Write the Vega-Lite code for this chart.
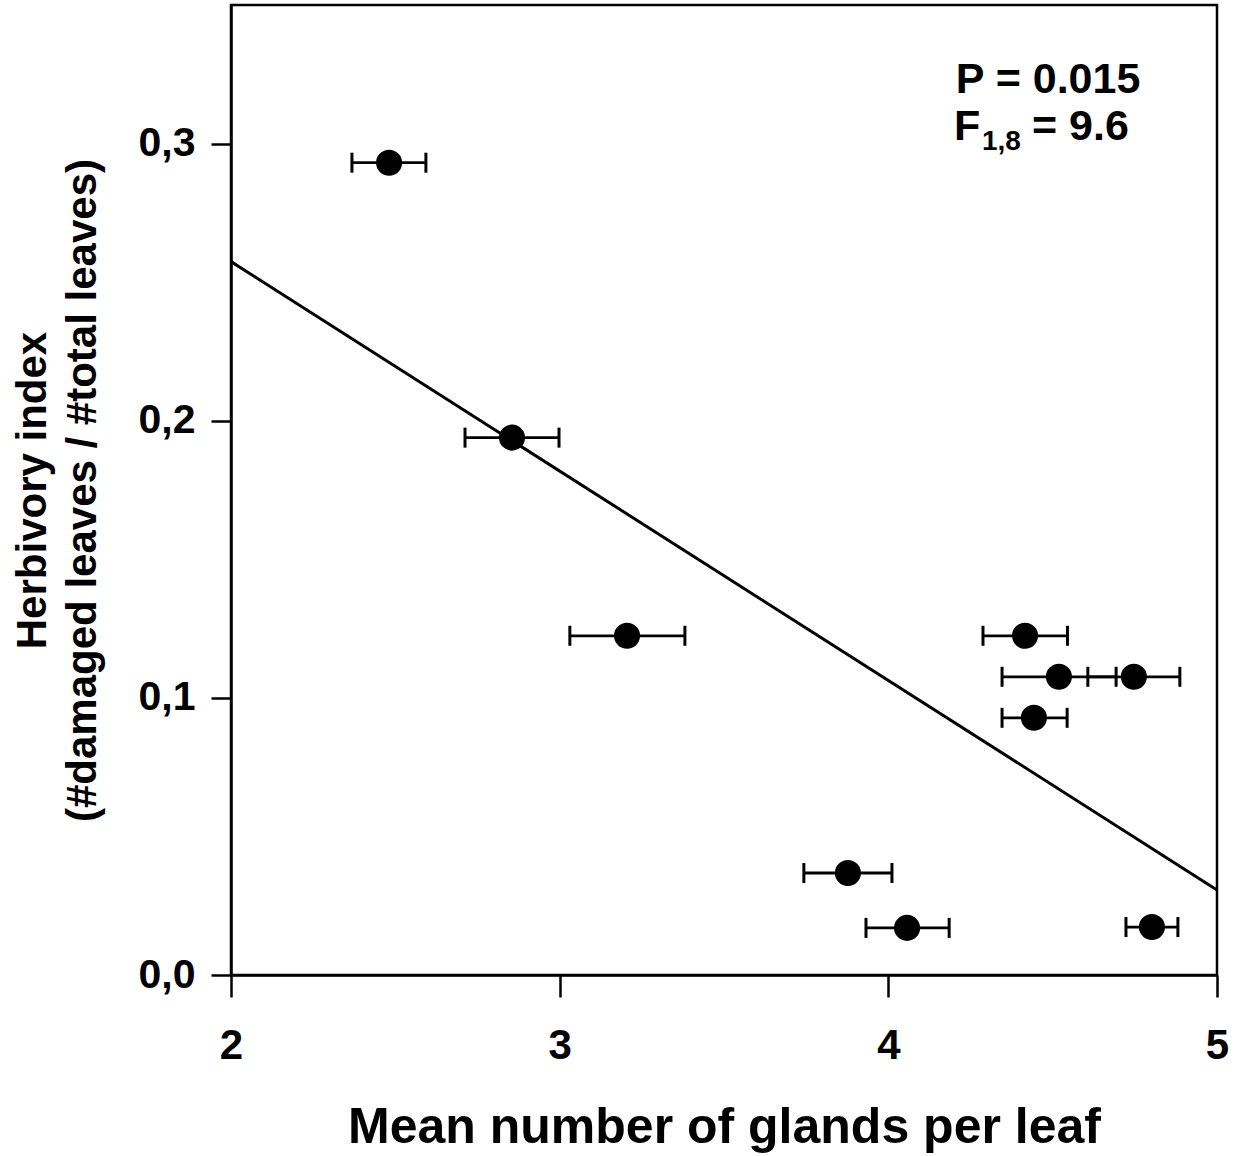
{
  "$schema": "https://vega.github.io/schema/vega-lite/v6.json",
  "width": 986,
  "height": 970,
  "autosize": {"type": "none"},
  "padding": {"left": 231, "top": 5, "right": 21, "bottom": 181},
  "background": "white",
  "config": {
    "font": "Liberation Sans",
    "view": {"stroke": "black", "strokeWidth": 2.5},
    "axis": {
      "grid": false,
      "domainColor": "black",
      "domainWidth": 2.5,
      "tickColor": "black",
      "tickWidth": 2.5,
      "labelColor": "black",
      "titleColor": "black",
      "labelFont": "Liberation Sans",
      "titleFont": "Liberation Sans",
      "labelFontWeight": "bold",
      "titleFontWeight": "bold",
      "labelFlush": false,
      "labelBound": false,
      "labelOverlap": false
    }
  },
  "datasets": {
    "points": [
      {"x": 2.481, "y": 0.2931, "lo": 2.368, "hi": 2.593},
      {"x": 2.855, "y": 0.1939, "lo": 2.712, "hi": 2.998},
      {"x": 3.205, "y": 0.1224, "lo": 3.031, "hi": 3.381},
      {"x": 4.416, "y": 0.1224, "lo": 4.288, "hi": 4.545},
      {"x": 4.519, "y": 0.1076, "lo": 4.346, "hi": 4.693},
      {"x": 4.747, "y": 0.1076, "lo": 4.607, "hi": 4.887},
      {"x": 4.443, "y": 0.0928, "lo": 4.346, "hi": 4.544},
      {"x": 3.877, "y": 0.0368, "lo": 3.743, "hi": 4.011},
      {"x": 4.057, "y": 0.0170, "lo": 3.932, "hi": 4.185},
      {"x": 4.802, "y": 0.0173, "lo": 4.723, "hi": 4.881}
    ],
    "fit": [
      {"x": 2, "y": 0.2574},
      {"x": 5, "y": 0.0307}
    ],
    "notes": [
      {"x": 4.486, "y": 0.3231, "text": "P = 0.015", "part": "main"},
      {"x": 4.200, "y": 0.3058, "text": "F", "part": "left"},
      {"x": 4.437, "y": 0.3058, "text": "= 9.6", "part": "left"}
    ],
    "subs": [
      {"x": 4.285, "y": 0.3005, "text": "1,8"}
    ]
  },
  "encoding": {
    "x": {
      "field": "x",
      "type": "quantitative",
      "scale": {"domain": [2, 5], "nice": false, "zero": false},
      "axis": {
        "values": [2, 3, 4, 5],
        "format": "d",
        "tickSize": 22,
        "labelFontSize": 42,
        "labelPadding": 28,
        "title": "Mean number of glands per leaf",
        "titleFontSize": 50,
        "titlePadding": 36
      }
    },
    "y": {
      "field": "y",
      "type": "quantitative",
      "scale": {"domain": [0, 0.35], "nice": false, "zero": false},
      "axis": {
        "values": [0, 0.1, 0.2, 0.3],
        "labelExpr": "replace(format(datum.value, '.1f'), '.', ',')",
        "tickSize": 20,
        "labelFontSize": 41,
        "labelPadding": 16,
        "title": ["Herbivory index", "(#damaged leaves / #total leaves)"],
        "titleFontSize": 42,
        "titleLineHeight": 50,
        "titlePadding": 34
      }
    }
  },
  "layer": [
    {
      "data": {"name": "fit"},
      "mark": {"type": "line", "color": "black", "strokeWidth": 3}
    },
    {
      "data": {"name": "points"},
      "mark": {"type": "rule", "color": "black", "strokeWidth": 2.8},
      "encoding": {
        "x": {"field": "lo", "type": "quantitative", "title": "Mean number of glands per leaf", "scale": {"domain": [2, 5], "nice": false, "zero": false}},
        "x2": {"field": "hi"}
      }
    },
    {
      "data": {"name": "points"},
      "mark": {"type": "tick", "orient": "vertical", "color": "black", "opacity": 1, "thickness": 3, "size": 20},
      "encoding": {
        "x": {"field": "lo", "type": "quantitative", "title": "Mean number of glands per leaf", "scale": {"domain": [2, 5], "nice": false, "zero": false}}
      }
    },
    {
      "data": {"name": "points"},
      "mark": {"type": "tick", "orient": "vertical", "color": "black", "opacity": 1, "thickness": 3, "size": 20},
      "encoding": {
        "x": {"field": "hi", "type": "quantitative", "title": "Mean number of glands per leaf", "scale": {"domain": [2, 5], "nice": false, "zero": false}}
      }
    },
    {
      "data": {"name": "points"},
      "mark": {"type": "point", "shape": "circle", "filled": true, "color": "black", "opacity": 1, "size": 680}
    },
    {
      "data": {"name": "notes"},
      "transform": [{"filter": "datum.part == 'main'"}],
      "mark": {"type": "text", "align": "center", "baseline": "middle", "fontSize": 43, "fontWeight": "bold", "color": "black"},
      "encoding": {"text": {"field": "text"}}
    },
    {
      "data": {"name": "notes"},
      "transform": [{"filter": "datum.part == 'left'"}],
      "mark": {"type": "text", "align": "left", "baseline": "middle", "fontSize": 43, "fontWeight": "bold", "color": "black"},
      "encoding": {"text": {"field": "text"}}
    },
    {
      "data": {"name": "subs"},
      "mark": {"type": "text", "align": "left", "baseline": "middle", "fontSize": 28, "fontWeight": "bold", "color": "black"},
      "encoding": {"text": {"field": "text"}}
    }
  ]
}
